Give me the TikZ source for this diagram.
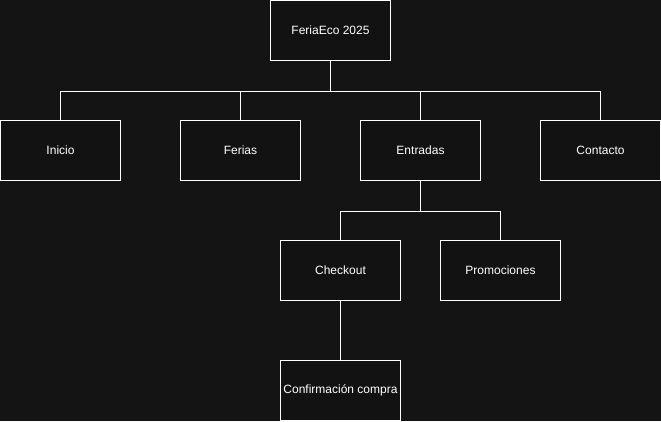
\documentclass[tikz,border=0pt]{standalone}
\usepackage{fontspec}
\setmainfont{Liberation Sans}
\definecolor{bg}{RGB}{20,20,20}
\definecolor{boxfill}{RGB}{18,18,18}
\definecolor{txt}{RGB}{255,255,255}
\begin{document}
\begin{tikzpicture}[x=1pt,y=-1pt,
  box/.style={draw=white, line width=1pt, fill=boxfill, minimum width=120pt, minimum height=60pt, inner sep=0pt, text=txt, font=\fontsize{12pt}{14pt}\selectfont, anchor=north west},
  conn/.style={draw=white, line width=1pt}]
\fill[bg] (0,0) rectangle (661,421);
\useasboundingbox (0,0) rectangle (661,421);
\node[box] (top) at (270,0) {FeriaEco 2025};
\node[box] (inicio) at (0,120) {Inicio};
\node[box] (ferias) at (180,120) {Ferias};
\node[box] (entradas) at (360,120) {Entradas};
\node[box] (contacto) at (540,120) {Contacto};
\node[box] (checkout) at (280,240) {Checkout};
\node[box] (promo) at (440,240) {Promociones};
\node[box] (conf) at (280,360) {Confirmación compra};
\draw[conn] (top.south) -- ++(0,30) -| (inicio.north);
\draw[conn] (top.south) -- ++(0,30) -| (ferias.north);
\draw[conn] (top.south) -- ++(0,30) -| (entradas.north);
\draw[conn] (top.south) -- ++(0,30) -| (contacto.north);
\draw[conn] (entradas.south) -- ++(0,30) -| (checkout.north);
\draw[conn] (entradas.south) -- ++(0,30) -| (promo.north);
\draw[conn] (checkout.south) -- (conf.north);
\end{tikzpicture}
\end{document}
